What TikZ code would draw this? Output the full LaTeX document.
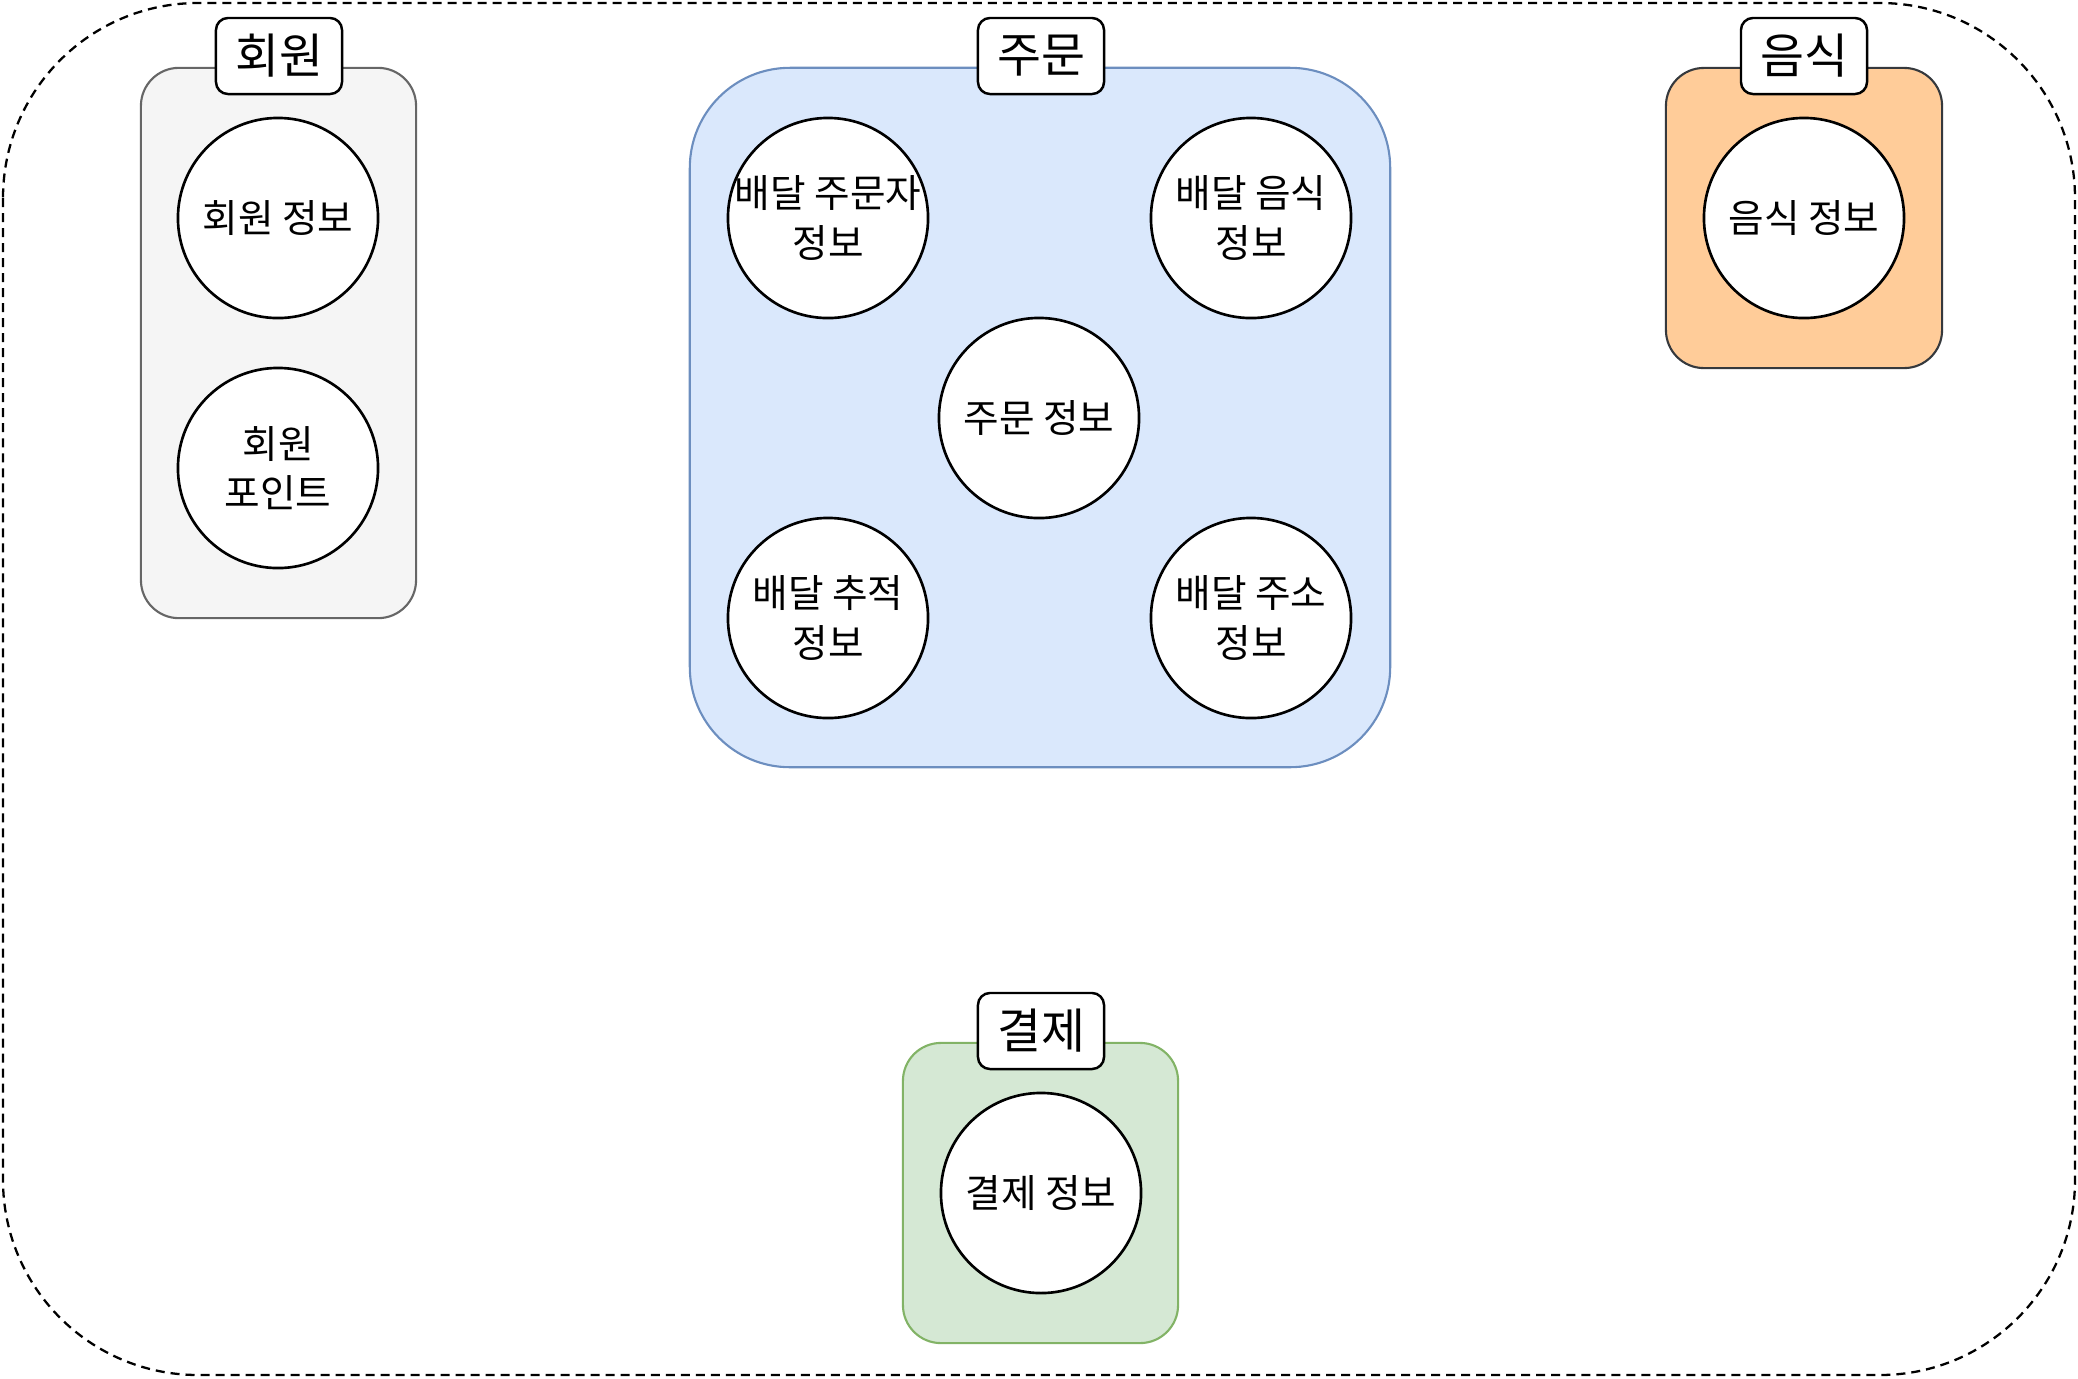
\documentclass[tikz,border=0pt]{standalone}
\usepackage{fontspec}
\setmainfont{Noto Sans CJK KR}
\definecolor{memberfill}{HTML}{F5F5F5}
\definecolor{memberline}{HTML}{666666}
\definecolor{orderfill}{HTML}{DAE8FC}
\definecolor{orderline}{HTML}{6C8EBF}
\definecolor{foodfill}{HTML}{FFCC99}
\definecolor{foodline}{HTML}{36393D}
\definecolor{payfill}{HTML}{D5E8D4}
\definecolor{payline}{HTML}{82B366}
\begin{document}
\begin{tikzpicture}[x=.01cm, y=-.01cm,
  group/.style={draw, line width=.6pt, rounded corners=.38cm, inner sep=0pt},
  entity/.style={circle, draw, fill=white, line width=.75pt, minimum size=2cm, inner sep=-5pt, align=center, font=\fontsize{11}{14}\selectfont},
  grouptitle/.style={draw, fill=white, line width=.7pt, rounded corners=.12cm, minimum width=1.26cm, minimum height=.76cm, inner sep=0pt, font=\fontsize{13.6}{16}\selectfont}]
\useasboundingbox (0,0) rectangle (2078,1378);

\draw[line width=.65pt, dash pattern=on .09cm off .06cm, rounded corners=1.95cm] (3,3) rectangle (2075,1375);

\node[group, fill=memberfill, draw=memberline, minimum width=2.75cm, minimum height=5.5cm] (member) at (278.5,343) {};
\node[group, fill=orderfill, draw=orderline, rounded corners=1cm, minimum width=7cm, minimum height=6.99cm] (order) at (1040,417.5) {};
\node[group, fill=foodfill, draw=foodline, minimum width=2.76cm, minimum height=3cm] (food) at (1804,218) {};
\node[group, fill=payfill, draw=payline, minimum width=2.75cm, minimum height=3cm] (pay) at (1040.5,1193) {};

\node[entity] (memberinfo) at (278,218) {회원 정보};
\node[entity] (memberpoint) at (278,468) {회원\\포인트};

\node[entity] (orderer) at (828,218) {배달 주문자\\정보};
\node[entity] (orderfood) at (1251,218) {배달 음식\\정보};
\node[entity] (orderinfo) at (1039,418) {주문 정보};
\node[entity] (tracking) at (828,618) {배달 추적\\정보};
\node[entity] (address) at (1251,618) {배달 주소\\정보};

\node[entity] (foodinfo) at (1804,218) {음식 정보};
\node[entity] (payinfo) at (1041,1193) {결제 정보};

\node[grouptitle] (membertitle) at (279,56) {회원};
\node[grouptitle] (ordertitle) at (1041,56) {주문};
\node[grouptitle] (foodtitle) at (1804,56) {음식};
\node[grouptitle] (paytitle) at (1041,1031) {결제};
\end{tikzpicture}
\end{document}
